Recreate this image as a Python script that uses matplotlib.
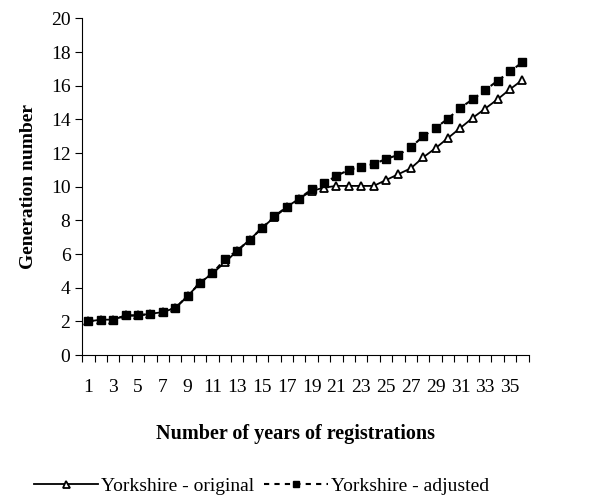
import matplotlib
matplotlib.use('Agg')
import matplotlib.pyplot as plt
import numpy as np

plt.rcParams['font.family'] = ['Liberation Serif', 'DejaVu Serif']

years = list(range(1, 37))
original = [2.0, 2.1, 2.1, 2.35, 2.35, 2.45, 2.55, 2.8, 3.5, 4.3, 4.85, 5.5,
            6.2, 6.85, 7.55, 8.2, 8.8, 9.3, 9.75, 9.95, 10.05, 10.05, 10.05, 10.05,
            10.4, 10.75, 11.1, 11.75, 12.3, 12.9, 13.5, 14.1, 14.65, 15.2, 15.8, 16.35]
adjusted = [2.0, 2.1, 2.1, 2.35, 2.35, 2.45, 2.55, 2.8, 3.5, 4.3, 4.85, 5.7,
            6.2, 6.85, 7.55, 8.25, 8.8, 9.3, 9.85, 10.2, 10.65, 11.0, 11.2, 11.35,
            11.65, 11.9, 12.35, 13.0, 13.5, 14.05, 14.7, 15.2, 15.75, 16.3, 16.85, 17.4]
labels = ['Yorkshire - original', 'Yorkshire - adjusted']

fig = plt.figure(figsize=(5.92, 5.0), dpi=100)
ax = fig.add_axes([0.139, 0.29, 0.754, 0.673])

ax.plot(years, original, color='black', lw=1.3, marker='^', ms=6.3,
        mfc='white', mec='black', mew=1.3, label=labels[0])
ax.plot(years, adjusted, color='black', lw=1.5, ls=(0, (2.5, 2.5)), marker='s', ms=5.5,
        mfc='black', mec='black', label=labels[1])

ax.set_xlim(0.5, 36.5)
ax.set_ylim(0, 20)
ax.set_yticks(np.arange(0, 21, 2))
ax.tick_params(axis='y', direction='out', length=5, labelsize=14, width=0.8)

# Excel style: ticks between categories, labels on every other category
ax.set_xticks(np.arange(0.5, 37, 1))
ax.set_xticklabels([])
ax.tick_params(axis='x', which='major', direction='out', length=5, width=0.8)
ax.set_xticks(np.arange(1, 36, 2), minor=True)
ax.set_xticklabels([str(v) for v in range(1, 36, 2)], minor=True)
ax.tick_params(axis='x', which='minor', length=0, labelsize=14, pad=17)

for side in ['top', 'right']:
    ax.spines[side].set_visible(False)
for side in ['left', 'bottom']:
    ax.spines[side].set_linewidth(0.8)

ax.set_xlabel('Number of years of registrations', fontsize=14.5, fontweight='bold', labelpad=17)
ax.xaxis.set_label_coords(0.477, -0.205)
ax.set_ylabel('Generation number', fontsize=14, fontweight='bold', labelpad=10)

fig.legend(loc='lower center', bbox_to_anchor=(0.442, -0.025), ncol=2, frameon=False,
           fontsize=14, handlelength=3.3, columnspacing=0.5, handletextpad=0.15,
           markerscale=0.8)

fig.savefig('out.png', dpi=100)
